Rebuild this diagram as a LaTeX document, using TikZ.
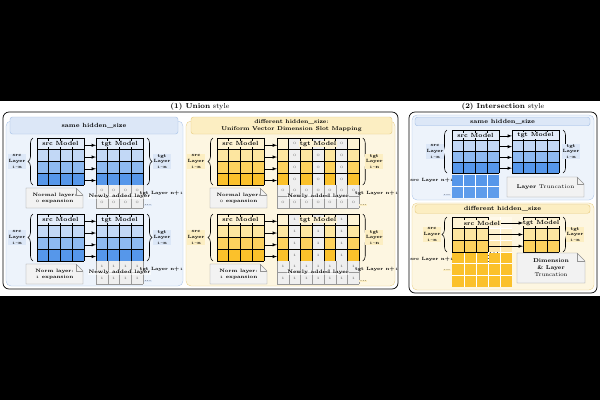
\documentclass[tikz,border=0pt]{standalone}
\usepackage{tikz}
\usepackage{xcolor}
\usetikzlibrary{calc}
\usetikzlibrary{arrows.meta}
\usetikzlibrary{decorations.pathreplacing}

\definecolor{bluebg}{HTML}{EDF3FB}
\definecolor{bluehdr}{HTML}{DCE7F7}
\definecolor{bluebd}{HTML}{A3BFE6}
\definecolor{bluecell}{HTML}{E3ECF9}
\definecolor{blueA}{HTML}{C2D8F6}
\definecolor{blueB}{HTML}{8EBAF1}
\definecolor{blueC}{HTML}{5697EA}
\definecolor{ylwbg}{HTML}{FDF6E1}
\definecolor{ylwhdr}{HTML}{FCEEC2}
\definecolor{ylwbd}{HTML}{E6CA7C}
\definecolor{ylwcell}{HTML}{FEF3D3}
\definecolor{ylwA}{HTML}{FDE6A0}
\definecolor{ylwB}{HTML}{FDD25E}
\definecolor{ylwC}{HTML}{FBC12B}
\definecolor{zfill}{HTML}{EFEFEF}
\definecolor{notefill}{HTML}{F2F2F2}

\newcommand{\osn}[1]{\ensuremath{\mathnormal{#1}}} % old style digits

\begin{document}
\begin{tikzpicture}[x=1pt, y=-1pt,
    % --- styles ---
    title/.style = {inner sep=0pt, font=\fontsize{7.2}{8}\selectfont},
    outerbox/.style = {draw=black, line width=0.7pt, rounded corners=6pt},
    panel/.style = {fill=#1bg, draw=#1bd, line width=0.3pt, rounded corners=5pt},
    hdrbar/.style = {fill=#1hdr, draw=#1bd, line width=0.4pt, rounded corners=2.5pt, inner sep=0pt, align=center, font=\bfseries\fontsize{6}{6.6}\selectfont},
    frame/.style = {draw=none, inner sep=0pt, outer sep=0pt},
    gline/.style = {black, line width=0.6pt},
    wline/.style = {white, line width=0.6pt},
    zline/.style = {gray!80, line width=0.45pt},
    ztext/.style = {inner sep=0pt, text=black!55, font=\fontsize{5}{5}\selectfont},
    modellbl/.style = {fill=#1cell, inner sep=0.6pt, font=\bfseries\fontsize{6}{6}\selectfont},
    arr/.style = {-latex, line width=0.5pt},
    brc/.style = {decorate, decoration={brace, amplitude=5pt}, line width=0.55pt},
    sidelbl/.style = {fill=#1hdr, inner sep=0.8pt, align=center, font=\bfseries\fontsize{4.6}{5.6}\selectfont},
    plainlbl/.style = {inner sep=0.5pt, font=\bfseries\fontsize{4.6}{5.6}\selectfont},
    newlbl/.style = {fill=white, fill opacity=0.6, text opacity=1, inner sep=0.4pt, font=\bfseries\fontsize{5}{5}\selectfont},
    notedraw/.style = {draw=gray!85, line width=0.45pt},
    notetext/.style = {align=center, inner sep=0pt, font=\bfseries\fontsize{4.8}{6}\selectfont},
    dot/.style = {circle, fill=black, inner sep=0pt, minimum size=0.9pt}
  ]

  % --- parameters ---
  \def\cw{11.75}   % cell width
  \def\rh{11.75}   % row height

  % --- background ---
  \fill[black] (0,0) rectangle (600,400);
  \fill[white] (0,101) rectangle (600,296);
  \useasboundingbox (0,0) rectangle (600,400);

  % --- titles ---
  \node[title] (titleU) at (200,106.5) {\textbf{(1) Union} style};
  \node[title] (titleI) at (503,106.5) {\textbf{(2) Intersection} style};

  % --- outer boxes and panels ---
  \draw[outerbox] (3,112) rectangle (398,289);
  \draw[outerbox] (409,112) rectangle (597,293);
  \draw[panel=blue] (6,121) rectangle (183,286);
  \draw[panel=ylw] (186,121) rectangle (395,286);
  \draw[panel=blue] (412,115) rectangle (594,200);
  \draw[panel=ylw] (412,203) rectangle (594,290);

  % --- header bars ---
  \node[hdrbar=blue, minimum width=168, minimum height=17] (hdrUB) at (94,125.5) {same hidden\_size};
  \node[hdrbar=ylw, minimum width=201, minimum height=17, font=\bfseries\fontsize{5.6}{6.6}\selectfont] (hdrUY) at (291.5,125.5) {different hidden\_size:\\Uniform Vector Dimension Slot Mapping};
  \node[hdrbar=blue, minimum width=175, minimum height=8.5] (hdrIB) at (502.5,121.5) {same hidden\_size};
  \node[hdrbar=ylw, minimum width=175, minimum height=8.5] (hdrIY) at (502.5,209) {different hidden\_size};

  % --- (1) Union: two rows ---
  \foreach \dy/\val/\notename in {0/0/Normal layer:, 76/1/Norm layer:} {
    % grid frames
    \node[frame, minimum width=47, minimum height=47] (srcB\val) at (60.5,161.5+\dy) {};
    \node[frame, minimum width=47, minimum height=47] (tgtB\val) at (119.5,161.5+\dy) {};
    \node[frame, minimum width=47, minimum height=47] (srcY\val) at (240.5,161.5+\dy) {};
    \node[frame, minimum width=82.25, minimum height=47] (tgtY\val) at (318.125,161.5+\dy) {};

    % full grids
    \foreach \g/\pal in {srcB\val/blue, tgtB\val/blue, srcY\val/ylw} {
      \begin{scope}[shift={(\g.north west)}]
        \foreach \cc [count=\rr from 0] in {cell,A,B,C}
          \fill[fill=\pal\cc] (0,\rr*\rh) rectangle ++(4*\cw,\rh);
        \foreach \i in {0,...,4} {
          \draw[gline] (\i*\cw,0) -- ++(0,4*\rh);
          \draw[gline] (0,\i*\rh) -- ++(4*\cw,0);
        }
      \end{scope}
    }

    % tgt grid with slot mapping
    \begin{scope}[shift={(tgtY\val.north west)}]
      \foreach \cc [count=\rr from 0] in {ylwcell,ylwA,ylwB,ylwC} {
        \foreach \i in {0,2,4,6}
          \fill[fill=\cc] (\i*\cw,\rr*\rh) rectangle ++(\cw,\rh);
        \foreach \i in {1,3,5} {
          \fill[zfill] (\i*\cw,\rr*\rh) rectangle ++(\cw,\rh);
          \ifnum\rr\i=3 \else
            \node[ztext] (zY\val\rr\i) at ({(\i+0.5)*\cw},{(\rr+0.5)*\rh}) {\osn{\val}};
          \fi
        }
      }
      \foreach \i in {0,...,7} \draw[gline] (\i*\cw,0) -- ++(0,4*\rh);
      \foreach \j in {0,...,4} \draw[gline] (0,\j*\rh) -- ++(7*\cw,0);
    \end{scope}

    % newly added rows
    \foreach \g/\nl in {tgtB\val/4, tgtY\val/7} {
      \begin{scope}[shift={(\g.south west)}]
        \foreach \j in {0,1}
          \foreach \i in {1,...,\nl} {
            \fill[zfill] ({(\i-1)*\cw},\j*11.5) rectangle ++(\cw,11.5);
            \node[ztext] (zN\g\j\i) at ({(\i-0.5)*\cw},{(\j+0.5)*11.5}) {\osn{\val}};
          }
        \foreach \i in {0,...,\nl} \draw[zline] (\i*\cw,0) -- ++(0,23);
        \foreach \j in {1,2} \draw[zline] (0,\j*11.5) -- ++(\nl*\cw,0);
      \end{scope}
      \node[newlbl] (nl\g) at ($(\g.south)+(0,11.5)$) {Newly added layer};
    }

    % model labels
    \node[modellbl=blue] (lsB\val) at ($(srcB\val.north)+(0,\rh/2)$) {src Model};
    \node[modellbl=blue] (ltB\val) at ($(tgtB\val.north)+(0,\rh/2)$) {tgt Model};
    \node[modellbl=ylw] (lsY\val) at ($(srcY\val.north)+(0,\rh/2)$) {src Model};
    \node[modellbl=ylw] (ltY\val) at ($(tgtY\val.north)+(0,\rh/2)$) {tgt Model};

    % arrows
    \foreach \k in {0,...,3} {
      \draw[arr] ($(srcB\val.north east)+(0,{(\k+0.62)*\rh})$) -- ($(tgtB\val.north west)+(0,{(\k+0.62)*\rh})$);
      \draw[arr] ($(srcY\val.north east)+(0,{(\k+0.62)*\rh})$) -- ($(tgtY\val.north west)+(0,{(\k+0.62)*\rh})$);
    }

    % braces and side labels
    \draw[brc] ([xshift=-4pt]srcB\val.south west) -- ([xshift=-4pt]srcB\val.north west);
    \draw[brc] ([xshift=4pt]tgtB\val.north east) -- ([xshift=4pt]tgtB\val.south east);
    \draw[brc] ([xshift=-4pt]srcY\val.south west) -- ([xshift=-4pt]srcY\val.north west);
    \draw[brc] ([xshift=3.5pt]tgtY\val.north east) -- ([xshift=3.5pt]tgtY\val.south east);
    \node[sidelbl=blue] (slB\val) at ($(srcB\val.west)+(-20,0)$) {src\\Layer\\\osn{1}\textasciitilde n};
    \node[sidelbl=blue] (tlB\val) at ($(tgtB\val.east)+(19,0)$) {tgt\\Layer\\\osn{1}\textasciitilde n};
    \node[sidelbl=ylw] (slY\val) at ($(srcY\val.west)+(-21,0)$) {src\\Layer\\\osn{1}\textasciitilde n};
    \node[sidelbl=ylw] (tlY\val) at ($(tgtY\val.east)+(15,0)$) {tgt\\Layer\\\osn{1}\textasciitilde n};
    \node[plainlbl] (n1B\val) at ($(tgtB\val.south east)+(18.5,8)$) {tgt Layer n+\osn{1}};
    \node[plainlbl] (n1Y\val) at ($(tgtY\val.south east)+(17.5,8)$) {tgt Layer n+\osn{1}};
    \node[sidelbl=blue] (dB\val) at ($(tgtB\val.south east)+(5,20)$) {...};
    \node[sidelbl=ylw] (dY\val) at ($(tgtY\val.south east)+(4,20)$) {...};

    % notes
    \foreach \g/\nx in {B/-6, Y/-2} {
      \node[frame, minimum width=57, minimum height=20] (note\g\val) at ($(src\g\val.south)+(\nx,13)$) {};
      \filldraw[notedraw, fill=notefill] (note\g\val.north west) -- ([xshift=-7pt]note\g\val.north east) -- ([yshift=-7pt]note\g\val.north east) -- (note\g\val.south east) -- (note\g\val.south west) -- cycle;
      \draw[notedraw] ([xshift=-7pt]note\g\val.north east) |- ([yshift=-7pt]note\g\val.north east);
      \node[notetext] (noteT\g\val) at (note\g\val) {\notename\\\osn{\val} expansion};
    }
  }

  % --- (2) Intersection: same hidden_size ---
  \def\rhi{10.75}
  \node[frame, minimum width=47, minimum height=43] (srcIB) at (475.5,151.5) {};
  \node[frame, minimum width=47, minimum height=43] (tgtIB) at (535.5,151.5) {};
  \foreach \g in {srcIB, tgtIB} {
    \begin{scope}[shift={(\g.north west)}]
      \foreach \cc [count=\rr from 0] in {bluecell,blueA,blueB,blueC}
        \fill[fill=\cc] (0,\rr*\rhi) rectangle ++(4*\cw,\rhi);
      \foreach \i in {0,...,4} {
        \draw[gline] (\i*\cw,0) -- ++(0,4*\rhi);
        \draw[gline] (0,\i*\rhi) -- ++(4*\cw,0);
      }
    \end{scope}
  }
  \begin{scope}[shift={(srcIB.south west)}]
    \fill[blueC] (0,2) rectangle (47,13.5);
    \fill[blueC!85!blueB] (0,13.5) rectangle (47,25);
    \foreach \i in {1,...,3} \draw[wline] (\i*\cw,2) -- (\i*\cw,25);
    \draw[wline] (0,13.5) -- (47,13.5);
  \end{scope}
  \node[modellbl=blue] (lsIB) at ($(srcIB.north)+(0,\rhi/2)$) {src Model};
  \node[modellbl=blue] (ltIB) at ($(tgtIB.north)+(0,\rhi/2)$) {tgt Model};
  \foreach \k in {0,...,3}
    \draw[arr] ($(srcIB.north east)+(0,{(\k+0.55)*\rhi})$) -- ($(tgtIB.north west)+(0,{(\k+0.55)*\rhi})$);
  \draw[brc] ([xshift=-5pt]srcIB.south west) -- ([xshift=-5pt]srcIB.north west);
  \draw[brc] ([xshift=4pt]tgtIB.north east) -- ([xshift=4pt]tgtIB.south east);
  \node[sidelbl=blue] (slIB) at ($(srcIB.west)+(-17,0)$) {src\\Layer\\\osn{1}\textasciitilde n};
  \node[sidelbl=blue] (tlIB) at ($(tgtIB.east)+(12,0)$) {tgt\\Layer\\\osn{1}\textasciitilde n};
  \node[plainlbl] (n1IB) at ($(srcIB.south west)+(-20,7)$) {src Layer n+\osn{1}};
  \node[sidelbl=blue] (dIB) at ($(srcIB.south west)+(-5,22)$) {...};
  \node[frame, minimum width=77, minimum height=20] (noteIB) at (545.5,187) {};
  \filldraw[notedraw, fill=notefill] (noteIB.north west) -- ([xshift=-7pt]noteIB.north east) -- ([yshift=-7pt]noteIB.north east) -- (noteIB.south east) -- (noteIB.south west) -- cycle;
  \draw[notedraw] ([xshift=-7pt]noteIB.north east) |- ([yshift=-7pt]noteIB.north east);
  \node[notetext, font=\fontsize{5.4}{6.5}\selectfont] (noteTIB) at (noteIB) {\textbf{Layer} Truncation};

  % --- (2) Intersection: different hidden_size ---
  \node[frame, minimum width=36, minimum height=35] (srcIY) at (470,234.5) {};
  \node[frame, minimum width=36, minimum height=35] (tgtIY) at (541,234.5) {};
  \begin{scope}[shift={(srcIY.north west)}]
    \foreach \cc/\cf [count=\rr from 0] in {ylwcell/ylwcell!50!white, ylwA/ylwA!50!white, ylwB/ylwB!50!white, ylwC/ylwC, ylwC/ylwC, ylwC/ylwC} {
      \fill[fill=\cc] (0,\rr*11.67) rectangle ++(36,11.67);
      \fill[fill=\cf] (36,\rr*11.67) rectangle ++(24,11.67);
    }
    \foreach \i in {1,...,4} \draw[wline] (\i*12,0) -- ++(0,70);
    \foreach \j in {1,...,5} \draw[wline] (0,\j*11.67) -- ++(60,0);
    \foreach \i in {0,...,3} {
      \draw[gline] (\i*12,0) -- ++(0,35);
      \draw[gline] (0,\i*11.67) -- ++(36,0);
    }
    % truncation dots
    \foreach \x in {38.5,42,45.5} \node[dot] (hd\x) at (\x,35.5) {};
    \foreach \y in {38.5,41.5,44.5} \node[dot] (vd\y) at (36.3,\y) {};
  \end{scope}
  \begin{scope}[shift={(tgtIY.north west)}]
    \foreach \cc [count=\rr from 0] in {ylwcell,ylwA,ylwB}
      \fill[fill=\cc] (0,\rr*11.67) rectangle ++(36,11.67);
    \foreach \i in {0,...,3} {
      \draw[gline] (\i*12,0) -- ++(0,35);
      \draw[gline] (0,\i*11.67) -- ++(36,0);
    }
  \end{scope}
  \node[modellbl=ylw] (lsIY) at (482,223) {src Model};
  \node[modellbl=ylw] (ltIY) at ($(tgtIY.north)+(0,5.8)$) {tgt Model};
  \draw[arr] (lsIY.east) -- (tgtIY.west |- lsIY.east);
  \foreach \k in {1,2}
    \draw[arr] ($(srcIY.north east)+(0,{(\k+0.5)*11.67})$) -- ($(tgtIY.north west)+(0,{(\k+0.5)*11.67})$);
  \draw[brc] ([xshift=-5pt]srcIY.south west) -- ([xshift=-5pt]srcIY.north west);
  \draw[brc] ([xshift=4pt]tgtIY.north east) -- ([xshift=4pt]tgtIY.south east);
  \node[sidelbl=ylw] (slIY) at ($(srcIY.west)+(-20,0)$) {src\\Layer\\\osn{1}\textasciitilde n};
  \node[sidelbl=ylw] (tlIY) at ($(tgtIY.east)+(16,0)$) {tgt\\Layer\\\osn{1}\textasciitilde n};
  \node[plainlbl] (n1IY) at (432,259) {src Layer n+\osn{1}};
  \node[sidelbl=ylw] (dIY) at (447,270) {...};
  \node[frame, minimum width=68, minimum height=30] (noteIY) at (551,268) {};
  \filldraw[notedraw, fill=notefill] (noteIY.north west) -- ([xshift=-8pt]noteIY.north east) -- ([yshift=-8pt]noteIY.north east) -- (noteIY.south east) -- (noteIY.south west) -- cycle;
  \draw[notedraw] ([xshift=-8pt]noteIY.north east) |- ([yshift=-8pt]noteIY.north east);
  \node[notetext, font=\fontsize{5.6}{7}\selectfont] (noteTIY) at (noteIY) {\textbf{Dimension}\\\textbf{\& Layer}\\Truncation};
\end{tikzpicture}
\end{document}
